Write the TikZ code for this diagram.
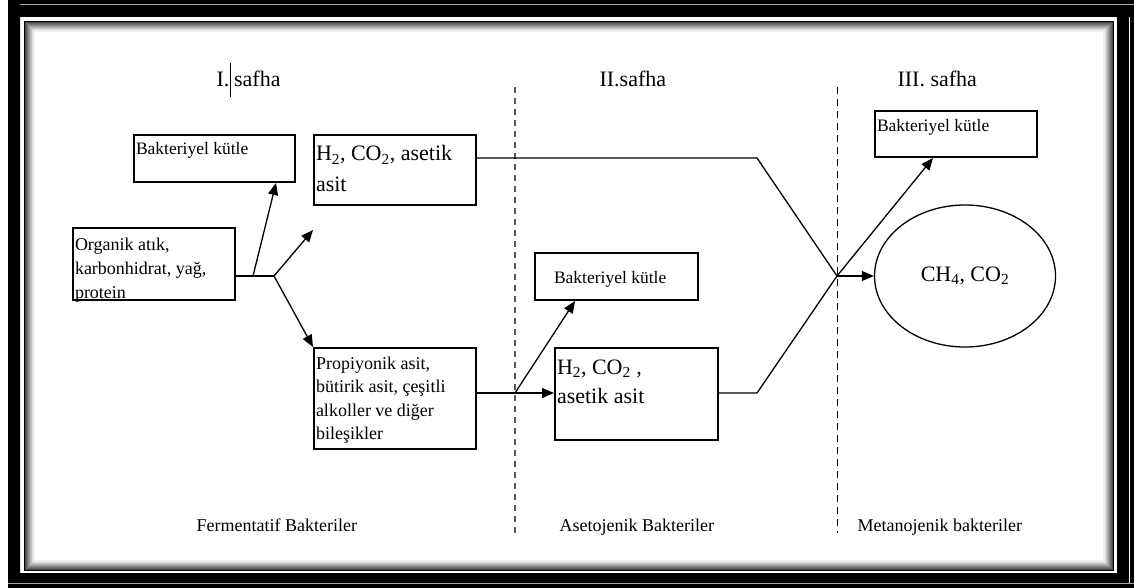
\documentclass[tikz,border=0pt]{standalone}
\usepackage{fontspec}
\setmainfont{Liberation Serif}
\usetikzlibrary{arrows.meta,shapes.geometric}

\newcommand{\kucuk}{\fontsize{17.5}{21}\selectfont}
\newcommand{\orta}{\fontsize{18}{24}\selectfont}
\newcommand{\buyuk}{\fontsize{22}{30}\selectfont}
% kutu icindeki metin: genislik, yukseklik, ilk satir tabani, metin
\newcommand{\kutuyazi}[4]{\parbox[c][#2][t]{#1}{\rule{0pt}{#3}#4}}

\tikzset{
  kutu/.style={draw,line width=2pt,inner xsep=2pt,inner ysep=0pt,anchor=north west},
  ok/.style={->,line width=1.3pt},
  hat/.style={line width=1.3pt},
}

\begin{document}
\begin{tikzpicture}[x=1pt,y=-1pt,>={Triangle[length=12pt,width=10pt]}]
  \useasboundingbox (0,0) rectangle (1134,588);
  \fill[white] (0,0) rectangle (1134,588);

  % dis cerceve ve golge
  \fill[black,even odd rule] (8,0) rectangle (1134,588) (20,17) rectangle (1117,573);
  \draw[gray!70,line width=1pt] (20,5) -- (1134,5);
  \draw[gray!70,line width=1pt] (8,583) -- (1134,583);
  \draw[white,line width=1.5pt] (1129.5,17) -- (1129.5,583);
  \draw[line width=2pt] (25,22) rectangle (1113,570);
  \foreach \i [evaluate=\i as \g using int(78-8*\i)] in {1,...,9}
    \draw[black!\g,line width=1.1pt] (25+\i,22+\i) rectangle (1113-\i,570-\i);

  % safha ayiricilari
  \draw[gray!70!black,line width=2pt,dash pattern=on 6pt off 5pt] (515,87) -- (515,533);
  \draw[line width=1pt,dash pattern=on 7pt off 5pt] (837,87) -- (837,533);

  % basliklar
  \node[anchor=base west,font=\buyuk] (s1) at (213,87) {I.\hspace{0.5pt}\rule[-10pt]{1.3pt}{34pt}\hspace{3pt}safha};
  \node[anchor=base west,font=\buyuk] (s2) at (596,87) {II.safha};
  \node[anchor=base west,font=\buyuk] (s3) at (894,87) {III. safha};

  % kutular
  \node[kutu] (bk1) at (133,134) {\kutuyazi{157pt}{47pt}{20pt}{\kucuk Bakteriyel kütle}};
  \node[kutu] (hc1) at (313,134) {\kutuyazi{158pt}{70pt}{26pt}{\buyuk H\textsubscript{2}, CO\textsubscript{2}, asetik\\ asit}};
  \node[kutu] (oa) at (72,227) {\kutuyazi{158pt}{72pt}{22pt}{\orta Organik atık,\\ karbonhidrat, yağ,\\ protein}};
  \node[kutu] (pa) at (313,347) {\kutuyazi{158pt}{101pt}{21pt}{\fontsize{18}{23.5}\selectfont Propiyonik asit,\\ bütirik asit, çeşitli\\ alkoller ve diğer\\ bileşikler}};
  \node[kutu] (bk2) at (534,252) {\kutuyazi{159pt}{47pt}{30pt}{\kucuk\hspace*{17pt}Bakteriyel kütle}};
  \node[kutu] (hc2) at (554,347) {\kutuyazi{159pt}{92pt}{26pt}{\fontsize{22}{29}\selectfont H\textsubscript{2}, CO\textsubscript{2} ,\\ asetik asit}};
  \node[kutu] (bk3) at (874,110) {\kutuyazi{158pt}{46pt}{21pt}{\kucuk Bakteriyel kütle}};
  \node[ellipse,draw,line width=1.3pt,inner sep=0pt,minimum width=181pt,minimum height=142pt,font=\buyuk] (ch) at (965,276)
    {\raisebox{4pt}{CH\textsubscript{4}, CO\textsubscript{2}}};

  % baglanti noktalari
  \coordinate (c0) at (253,276);
  \coordinate (c1) at (274,276);
  \coordinate (c2) at (313,230);
  \coordinate (c3) at (515,393);
  \coordinate (c4) at (757,158);
  \coordinate (c5) at (757,393);
  \coordinate (c6) at (837,276);

  % oklar
  \draw[hat] (oa.east |- c1) -- (c1);
  \draw[ok] (c0) -- ([xshift=-20pt]bk1.south east);
  \draw[ok] (c1) -- (c2);
  \draw[ok] (c1) -- (pa.north west);
  \draw[hat] (pa.east |- c3) -- (c3);
  \draw[ok] (c3) -- (hc2.west |- c3);
  \draw[ok] (c3) -- ([xshift=41pt]bk2.south west);
  \draw[hat] (hc1.east |- c4) -- (c4) -- (c6);
  \draw[hat] (hc2.east |- c5) -- (c5) -- (c6);
  \draw[ok] (c6) -- ([xshift=59pt]bk3.south west);
  \draw[ok] (c6) -- (ch.west);

  % bakteri gruplari
  \node[anchor=base west,font=\orta] (b1) at (193,531) {Fermentatif Bakteriler};
  \node[anchor=base west,font=\orta] (b2) at (556,531) {Asetojenik Bakteriler};
  \node[anchor=base west,font=\orta] (b3) at (854,531) {Metanojenik bakteriler};
\end{tikzpicture}
\end{document}
